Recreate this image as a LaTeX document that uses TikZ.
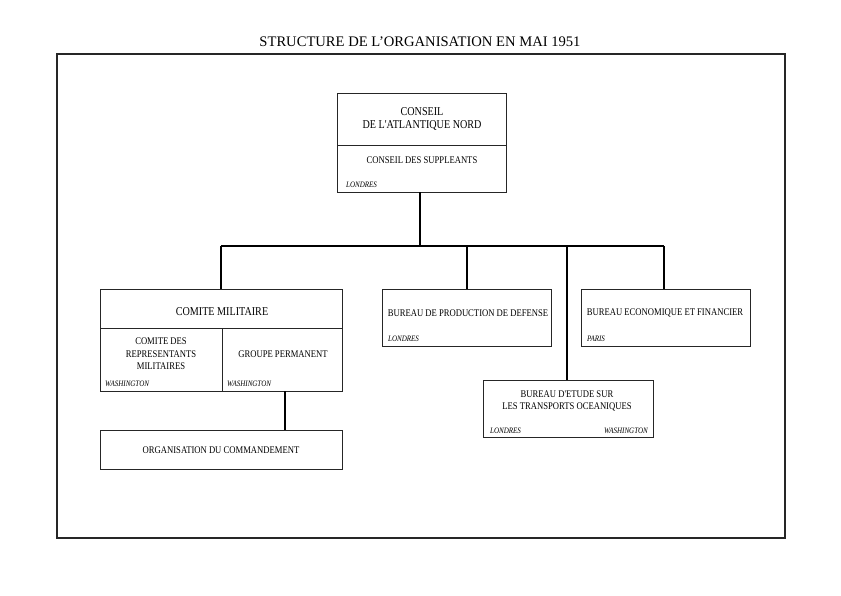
\documentclass[tikz,border=0pt]{standalone}
\usepackage{fontspec}
\setmainfont{Liberation Serif}
\newfontfamily\condfont[FakeStretch=0.845]{Liberation Serif}
\begin{document}
\begin{tikzpicture}[x=1pt,y=-1pt,
  box/.style={draw=black!85,line width=0.9pt},
  conn/.style={draw=black,line width=1.8pt},
  lbl/.style={font=\condfont\fontsize{10.2}{12.5}\selectfont,align=center,inner sep=0pt},
  biglbl/.style={font=\condfont\fontsize{12}{13}\selectfont,align=center,inner sep=0pt},
  place/.style={font=\condfont\itshape\fontsize{8.3}{9}\selectfont,inner sep=0pt}]
\useasboundingbox (0,0) rectangle (841,595);
% title and frame
\node[font=\fontsize{14.6}{16}\selectfont,inner sep=0pt] (title) at (420,42) {STRUCTURE DE L'ORGANISATION EN MAI 1951};
\draw[line width=1.3pt,draw=black!85] (57,54) rectangle (785,538);
% Conseil
\draw[box] (337,93) rectangle (506,192);
\draw[box] (337,145) -- (506,145);
\coordinate (cn) at (420,192);
\node[biglbl] (conseil) at (422,119) {CONSEIL\\DE L'ATLANTIQUE NORD};
\node[lbl] (supp) at (422,160) {CONSEIL DES SUPPLEANTS};
\node[place,anchor=west] (lond1) at (346,185) {LONDRES};
% Comite militaire
\draw[box] (100,289) rectangle (342,391);
\draw[box] (100,328) -- (342,328);
\draw[box] (222,328) -- (222,391);
\coordinate (cm) at (221,289);
\coordinate (cmb) at (285,391);
\node[biglbl] (comite) at (222,312) {COMITE MILITAIRE};
\node[lbl] (crm) at (161,354) {COMITE DES\\REPRESENTANTS\\MILITAIRES};
\node[lbl] (gp) at (283,354) {GROUPE PERMANENT};
\node[place,anchor=west] (w1) at (105,384) {WASHINGTON};
\node[place,anchor=west] (w2) at (227,384) {WASHINGTON};
% Organisation du commandement
\draw[box] (100,430) rectangle (342,469);
\coordinate (oc) at (285,430);
\node[lbl] (org) at (221,450) {ORGANISATION DU COMMANDEMENT};
% Bureau production
\draw[box] (382,289) rectangle (551,346);
\coordinate (bp) at (467,289);
\node[lbl] (prod) at (468,313) {BUREAU DE PRODUCTION DE DEFENSE};
\node[place,anchor=west] (lond2) at (388,339) {LONDRES};
% Bureau economique
\draw[box] (581,289) rectangle (750,346);
\coordinate (be) at (664,289);
\node[lbl] (eco) at (665,313) {BUREAU ECONOMIQUE ET FINANCIER};
\node[place,anchor=west] (paris) at (587,339) {PARIS};
% Bureau etude
\draw[box] (483,380) rectangle (653,437);
\coordinate (bt) at (567,380);
\node[lbl] (etude) at (567,401) {BUREAU D'ETUDE SUR\\LES TRANSPORTS OCEANIQUES};
\node[place,anchor=west] (lond3) at (490,431) {LONDRES};
\node[place,anchor=east] (w3) at (648,431) {WASHINGTON};
% connectors
\coordinate (hub) at (420,246);
\draw[conn] (cn) -- (hub);
\draw[conn] (cm |- hub) -- (be |- hub);
\draw[conn] (cm |- hub) -- (cm);
\draw[conn] (bp |- hub) -- (bp);
\draw[conn] (bt |- hub) -- (bt);
\draw[conn] (be |- hub) -- (be);
\draw[conn] (cmb) -- (oc);
\end{tikzpicture}
\end{document}
